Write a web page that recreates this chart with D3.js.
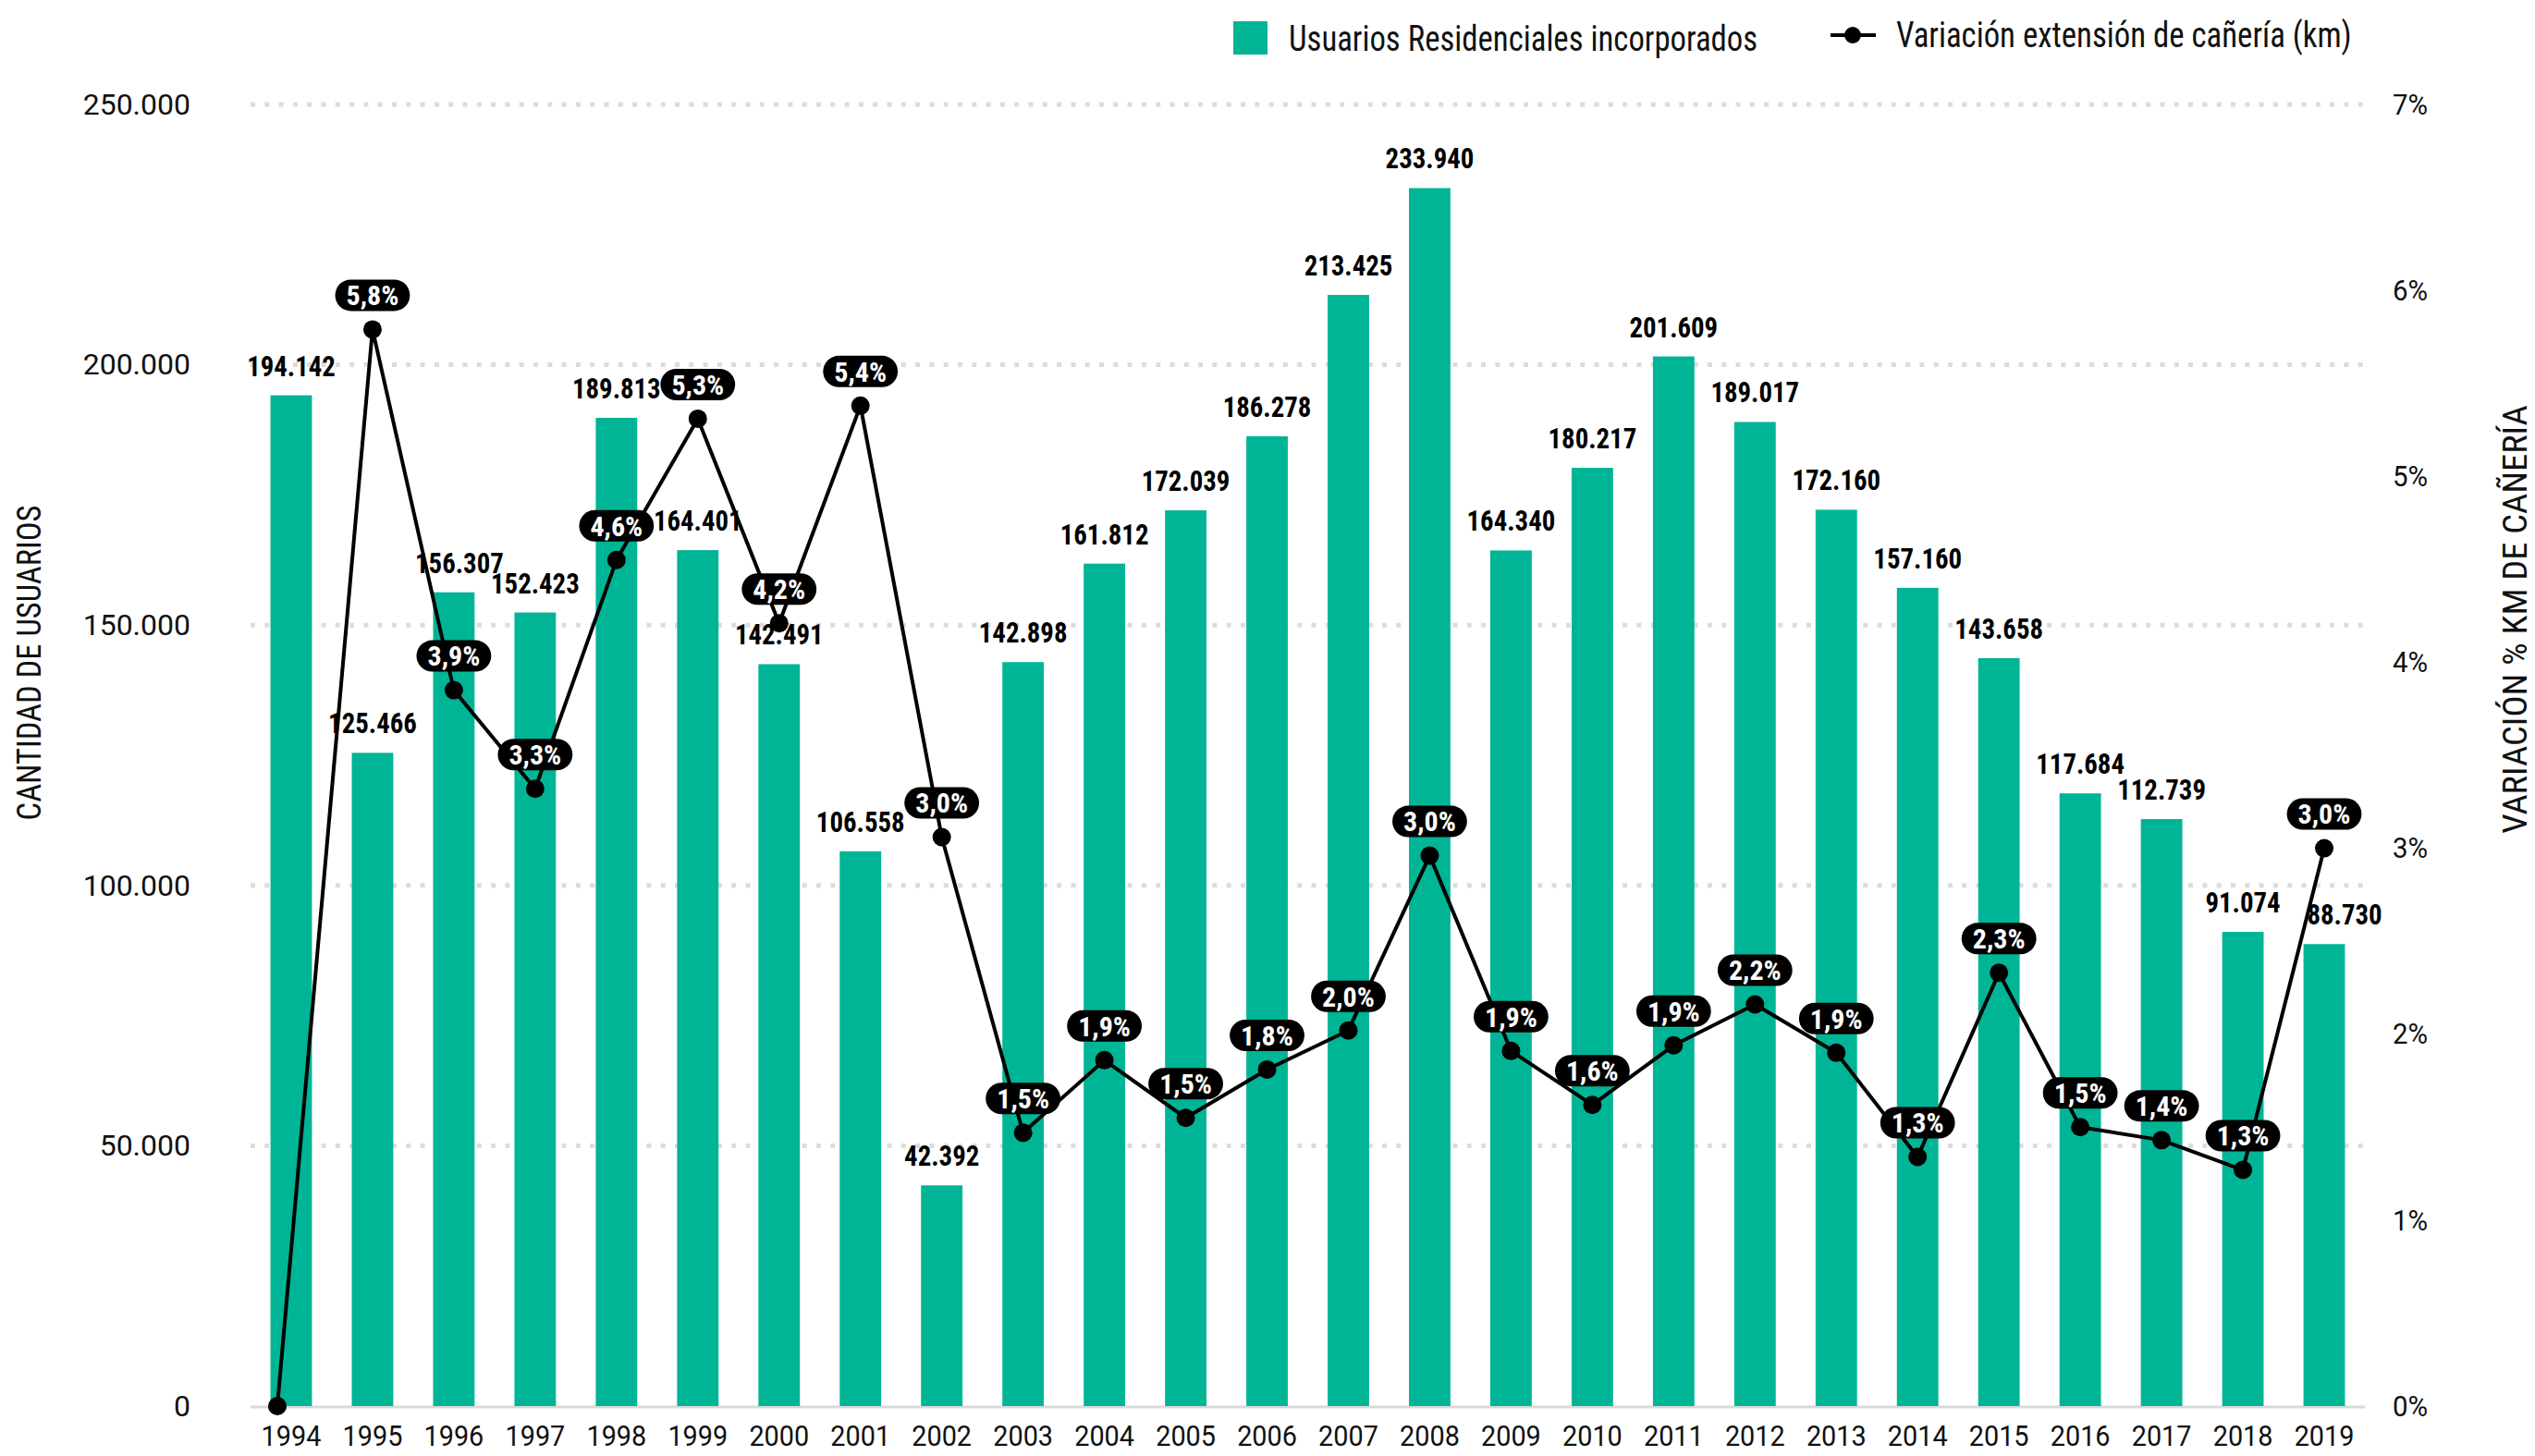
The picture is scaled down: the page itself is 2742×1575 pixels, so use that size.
<!DOCTYPE html>
<html>
<head>
<meta charset="utf-8">
<script src="https://cdn.jsdelivr.net/npm/d3@7"></script>
<style>
  body { margin: 0; background: #ffffff; }
  text { font-family: 'Roboto Condensed', Roboto, sans-serif; }
</style>
</head>
<body>
<svg id="chart" width="2742" height="1575"></svg>
<script>
// ---------- DATA ----------
const years = ["1994","1995","1996","1997","1998","1999","2000","2001","2002","2003","2004","2005","2006",
               "2007","2008","2009","2010","2011","2012","2013","2014","2015","2016","2017","2018","2019"];
const usuarios = [194142,125466,156307,152423,189813,164401,142491,106558,42392,142898,161812,172039,186278,
                  213425,233940,164340,180217,201609,189017,172160,157160,143658,117684,112739,91074,88730];
const variacion = [0,5.79,3.85,3.32,4.55,5.31,4.21,5.38,3.06,1.47,1.86,1.55,1.81,
                   2.02,2.96,1.91,1.62,1.94,2.16,1.90,1.34,2.33,1.50,1.43,1.27,3.00];
const variacionRotulo = [null,5.8,3.9,3.3,4.6,5.3,4.2,5.4,3.0,1.5,1.9,1.5,1.8,
                         2.0,3.0,1.9,1.6,1.9,2.2,1.9,1.3,2.3,1.5,1.4,1.3,3.0];
const leftTicks = [0,50000,100000,150000,200000,250000];
const rightTicks = [0,1,2,3,4,5,6,7];
const legendBars = "Usuarios Residenciales incorporados";
const legendLine = "Variación extensión de cañería (km)";
const leftTitle = "CANTIDAD DE USUARIOS";
const rightTitle = "VARIACIÓN % KM DE CAÑERÍA";

// ---------- SETUP ----------
const W = 2742, H = 1575;
const plot = { left: 271, right: 2558, top: 113, bottom: 1521 };
const GREEN = "#00b596";
// small label / point nudges seen in the original layout (pixels)
const valueLabelNudge = { "1996": 6, "2019": 22 };
const pointNudge = { "1994": -15 };

const svg = d3.select("#chart");
svg.append("rect").attr("width", W).attr("height", H).attr("fill", "#fff");

const es = d3.formatLocale({ decimal: ",", thousands: ".", grouping: [3], currency: ["$", ""] });
const fmtInt = es.format(",d");
const fmtPct = v => es.format(".1f")(v) + "%";

const x = d3.scaleBand().domain(years).range([plot.left, plot.right]).paddingInner(0.49).paddingOuter(0.245);
const yL = d3.scaleLinear().domain([0, 250000]).range([plot.bottom, plot.top]);
const yR = d3.scaleLinear().domain([0, 7]).range([plot.bottom, plot.top]);

// horizontally scale text (approximates the original typeface widths)
function condense(sel, f) {
  sel.each(function () {
    const len = this.getComputedTextLength();
    if (len > 0) d3.select(this).attr("textLength", len * f).attr("lengthAdjust", "spacingAndGlyphs");
  });
}

// ---------- GRID ----------
const grid = svg.append("g");
grid.selectAll("line").data(leftTicks.filter(d => d > 0)).join("line")
  .attr("x1", plot.left).attr("x2", plot.right)
  .attr("y1", d => yL(d)).attr("y2", d => yL(d))
  .attr("stroke", "#dcdcdc").attr("stroke-width", 5).attr("stroke-dasharray", "5 10.3");
svg.append("line").attr("x1", plot.left).attr("x2", plot.right)
  .attr("y1", yL(0) + 1).attr("y2", yL(0) + 1).attr("stroke", "#d9d9d9").attr("stroke-width", 3);

// ---------- AXES ----------
const axL = svg.append("g").attr("transform", `translate(${plot.left - 65},0)`)
  .call(d3.axisLeft(yL).tickValues(leftTicks).tickFormat(d => fmtInt(d)).tickSize(0).tickPadding(0));
const axR = svg.append("g").attr("transform", `translate(${plot.right + 30},0)`)
  .call(d3.axisRight(yR).tickValues(rightTicks).tickFormat(d => d + "%").tickSize(0).tickPadding(0));
const axB = svg.append("g").attr("transform", `translate(0,${plot.bottom + 20})`)
  .call(d3.axisBottom(x).tickSize(0).tickPadding(0));
[axL, axR, axB].forEach(a => {
  a.select(".domain").remove();
  a.selectAll("text").attr("fill", "#111").style("font-size", "32px").style("font-family", "Roboto, sans-serif");
});
axB.selectAll("text").attr("dy", "0.71em").style("font-size", "32px");
condense(axB.selectAll("text"), 0.9);
condense(axR.selectAll("text"), 0.92);

// axis titles
svg.append("text").attr("transform", "translate(31,717) rotate(-90)")
  .attr("text-anchor", "middle").attr("dy", "0.35em")
  .style("font-size", "36px").attr("fill", "#111").text(leftTitle)
  .call(s => condense(s, 0.96));
svg.append("text").attr("transform", "translate(2733,670) rotate(-90)")
  .attr("text-anchor", "middle")
  .style("font-size", "37px").attr("fill", "#111").text(rightTitle)
  .call(s => condense(s, 1.04));

// ---------- BARS ----------
const rows = years.map((y, i) => ({ year: y, u: usuarios[i], v: variacion[i], r: variacionRotulo[i] }));
svg.append("g").selectAll("rect").data(rows).join("rect")
  .attr("x", d => x(d.year)).attr("width", x.bandwidth())
  .attr("y", d => yL(d.u)).attr("height", d => yL(0) - yL(d.u))
  .attr("fill", GREEN);

// bar value labels
const vl = svg.append("g").selectAll("text").data(rows).join("text")
  .attr("x", d => x(d.year) + x.bandwidth() / 2 + (valueLabelNudge[d.year] || 0))
  .attr("y", d => yL(d.u) - 21)
  .attr("text-anchor", "middle").attr("fill", "#000")
  .style("font-size", "32px").style("font-weight", "700")
  .text(d => fmtInt(d.u));
condense(vl, 0.9);

// ---------- LINE ----------
const cx = d => x(d.year) + x.bandwidth() / 2 + (pointNudge[d.year] || 0);
svg.append("path").datum(rows)
  .attr("d", d3.line().x(cx).y(d => yR(d.v)))
  .attr("fill", "none").attr("stroke", "#000").attr("stroke-width", 4).attr("stroke-linejoin", "round");
svg.append("g").selectAll("circle").data(rows).join("circle")
  .attr("cx", cx).attr("cy", d => yR(d.v)).attr("r", 10).attr("fill", "#000");

// pill labels
const pills = svg.append("g").selectAll("g").data(rows.filter(d => d.r !== null)).join("g")
  .attr("transform", d => `translate(${cx(d)},${yR(d.v) - 37})`);
pills.append("text").attr("text-anchor", "middle").attr("dy", "0.36em")
  .attr("fill", "#fff").style("font-size", "30px").style("font-weight", "700")
  .text(d => fmtPct(d.r));
pills.each(function () {
  const g = d3.select(this);
  const w = g.select("text").node().getComputedTextLength() + 24;
  g.insert("rect", "text").attr("x", -w / 2).attr("y", -17).attr("width", w).attr("height", 34)
    .attr("rx", 17).attr("fill", "#000");
});

// ---------- LEGEND ----------
const lg = svg.append("g");
lg.append("rect").attr("x", 1334).attr("y", 23).attr("width", 37).attr("height", 36).attr("fill", GREEN);
lg.append("text").attr("x", 1394).attr("y", 42).attr("dy", "0.35em")
  .style("font-size", "38px").attr("fill", "#111").text(legendBars).call(s => condense(s, 0.915));
lg.append("line").attr("x1", 1980).attr("x2", 2029).attr("y1", 38).attr("y2", 38)
  .attr("stroke", "#000").attr("stroke-width", 4);
lg.append("circle").attr("cx", 2004).attr("cy", 38).attr("r", 9).attr("fill", "#000");
lg.append("text").attr("x", 2051).attr("y", 38).attr("dy", "0.35em")
  .style("font-size", "38px").attr("fill", "#111").text(legendLine).call(s => condense(s, 0.915));
</script>
</body>
</html>
